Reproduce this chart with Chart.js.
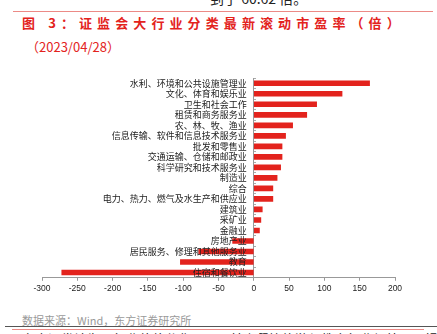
<!DOCTYPE html>
<html>
<head>
<meta charset="utf-8">
<script src="https://cdn.jsdelivr.net/npm/chart.js@4"></script>
<style>
  body { margin: 0; background: #fff; width: 437px; height: 334px; overflow: hidden; position: relative; font-family: "Noto Sans CJK SC", sans-serif; }
  .abs { position: absolute; white-space: nowrap; }
  .rule { position: absolute; height: 1px; }
  #chartBox { position: absolute; left: 0; top: 60px; width: 437px; height: 240px; }
</style>
</head>
<body>
<div class="abs" style="left:210px; top:-12px; font-size:14px; color:#222;">到了 60.62 倍。</div>
<div class="rule" style="left:13px; top:11px; width:420px; background:#ec8a86;"></div>
<div class="abs" style="left:22px; top:13px; font-size:13px; font-weight:bold; color:#e3231d; letter-spacing:5.1px;">图 3：证监会大行业分类最新滚动市盈率（倍）</div>
<div class="abs" style="left:26px; top:37px; font-size:13px; color:#e3231d;">（2023/04/28）</div>

<div id="chartBox"><canvas id="peChart"></canvas></div>

<div class="abs" style="left:22px; top:312px; font-size:11px; color:#9a9a9a;">数据来源：Wind，东方证券研究所</div>
<div class="rule" style="left:5px; top:326px; width:432px; background:#555;"></div>
<div class="rule" style="left:12px; top:329px; width:412px; background:#ec8a86;"></div>
<div class="abs" style="left:22px; top:329px; font-size:13px; color:#222;">东方证券认为，行业估值分化明显，其中餐饮旅游与教育行业仍处于亏损区间。</div>

<script>
// 行业名称（自上而下）
const industries = [
  '水利、环境和公共设施管理业',
  '文化、体育和娱乐业',
  '卫生和社会工作',
  '租赁和商务服务业',
  '农、林、牧、渔业',
  '信息传输、软件和信息技术服务业',
  '批发和零售业',
  '交通运输、仓储和邮政业',
  '科学研究和技术服务业',
  '制造业',
  '综合',
  '电力、热力、燃气及水生产和供应业',
  '建筑业',
  '采矿业',
  '金融业',
  '房地产业',
  '居民服务、修理和其他服务业',
  '教育',
  '住宿和餐饮业'
];

// 滚动市盈率（倍）
const peTTM = [164, 125, 89, 75, 55, 45, 40, 40, 38, 33, 27, 27, 12, 10, 8, -30, -78, -104, -272];

// x 轴刻度范围
const xMin = -300;
const xMax = 200;
const xStep = 50;

// 行业名称画在 0 轴左侧，压在柱子上面
const zeroAxisLabels = {
  id: 'zeroAxisLabels',
  afterDatasetsDraw(chart) {
    const { ctx, scales: { x, y } } = chart;
    const x0 = x.getPixelForValue(0) - 7;
    ctx.save();
    ctx.font = '9px "Noto Sans CJK SC"';
    ctx.fillStyle = '#222';
    ctx.textAlign = 'right';
    ctx.textBaseline = 'middle';
    y.ticks.forEach((t, i) => {
      ctx.fillText(chart.data.labels[t.value], x0, y.getPixelForTick(i));
    });
    ctx.restore();
  }
};

new Chart(document.getElementById('peChart'), {
  type: 'bar',
  data: {
    labels: industries,
    datasets: [{
      data: peTTM,
      backgroundColor: '#e3231d',
      barThickness: 5
    }]
  },
  options: {
    indexAxis: 'y',
    responsive: true,
    maintainAspectRatio: false,
    animation: false,
    layout: { padding: { left: 42, right: 42, top: 18, bottom: 3 } },
    plugins: {
      legend: { display: false },
      tooltip: { enabled: false }
    },
    scales: {
      x: {
        min: xMin,
        max: xMax,
        ticks: {
          stepSize: xStep,
          color: '#222',
          padding: 3,
          font: { family: 'Liberation Sans', size: 8.5 }
        },
        grid: { drawOnChartArea: false, tickLength: 3, color: '#999' },
        border: { color: '#999' }
      },
      y: {
        position: { x: 0 },
        ticks: { display: false, autoSkip: false },
        // 刻度线朝右
        grid: { offset: true, drawOnChartArea: false, tickLength: -3, color: '#aaa' },
        border: { color: '#999' }
      }
    }
  },
  plugins: [zeroAxisLabels]
});
</script>
</body>
</html>
